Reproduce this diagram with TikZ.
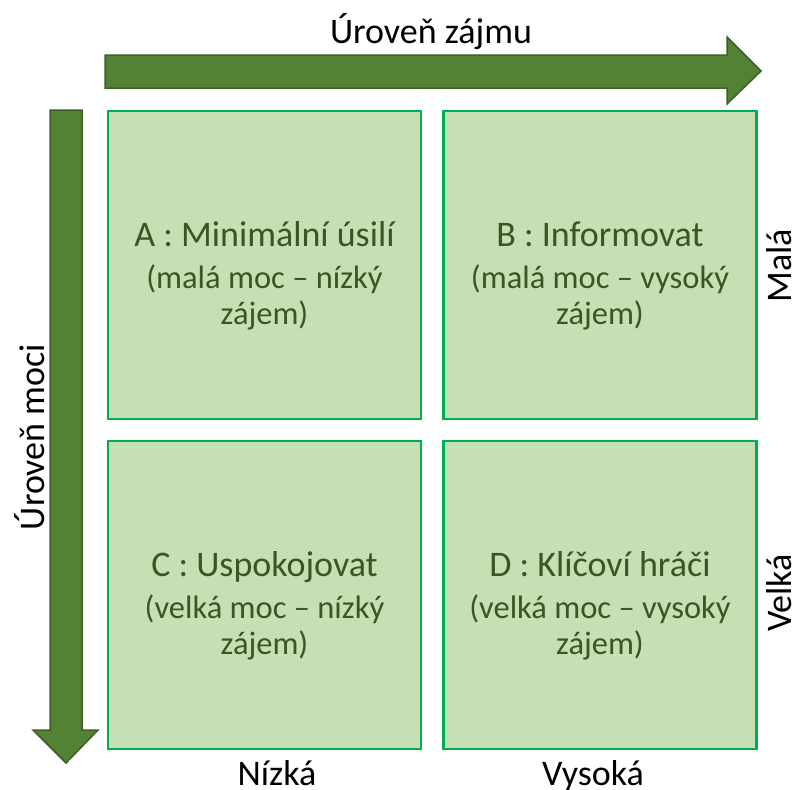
\documentclass[tikz,border=0pt]{standalone}
\usepackage{fontspec}
\setmainfont{Carlito}
\usetikzlibrary{positioning}
\definecolor{boxfill}{HTML}{C5E0B4}
\definecolor{boxline}{HTML}{00B050}
\definecolor{boxtext}{HTML}{385723}
\definecolor{arrowfill}{HTML}{548235}
\definecolor{arrowline}{HTML}{3F5F27}
\newcommand{\quadtitle}[1]{{\fontsize{36}{36}\selectfont\rule{0pt}{46pt}#1}}
\begin{document}
\begin{tikzpicture}[x=1pt,y=-1pt,
		quad/.style={draw=boxline, line width=2.5pt, fill=boxfill, text=boxtext,
			minimum width=313pt, minimum height=308pt, align=center,
			font=\fontsize{32.5}{36}\selectfont},
		axis/.style={font=\fontsize{36}{40}\selectfont, inner sep=0pt, anchor=base},
		bigarrow/.style={fill=arrowfill, draw=arrowline, line width=1.5pt, line join=miter}]
		\useasboundingbox (0,0) rectangle (796,790);
		% arrows
		\draw[bigarrow] (105,55) -- (727,55) -- (727,37) -- (761,71) -- (727,104)
		-- (727,88) -- (105,88) -- cycle;
		\draw[bigarrow] (50,110) -- (82,110) -- (82,730) -- (98,730) -- (66,763)
		-- (33,730) -- (50,730) -- cycle;
		% quadrants
		\node[quad] (A) at (264.5,265) {\quadtitle{A : Minimální úsilí}\\[6pt](malá moc – nízký\\zájem)};
		\node[quad] (B) at (600,265) {\quadtitle{B : Informovat}\\[6pt](malá moc – vysoký\\zájem)};
		\node[quad] (C) at (264.5,595) {\quadtitle{C : Uspokojovat}\\[6pt](velká moc – nízký\\zájem)};
		\node[quad] (D) at (600,595) {\quadtitle{D : Klíčoví hráči}\\[6pt](velká moc – vysoký\\zájem)};
		% labels
		\node[axis] (zajem) at (431,43) {Úroveň zájmu};
		\node[axis, rotate=90] (moc) at (45,437) {Úroveň moci};
		\node[axis, rotate=90] (mala) at (791,266) {Malá};
		\node[axis, rotate=90] (velka) at (791,593) {Velká};
		\node[axis] (nizka) at (277,785) {Nízká};
		\node[axis] (vysoka) at (593,785) {Vysoká};
	\end{tikzpicture}
\end{document}
